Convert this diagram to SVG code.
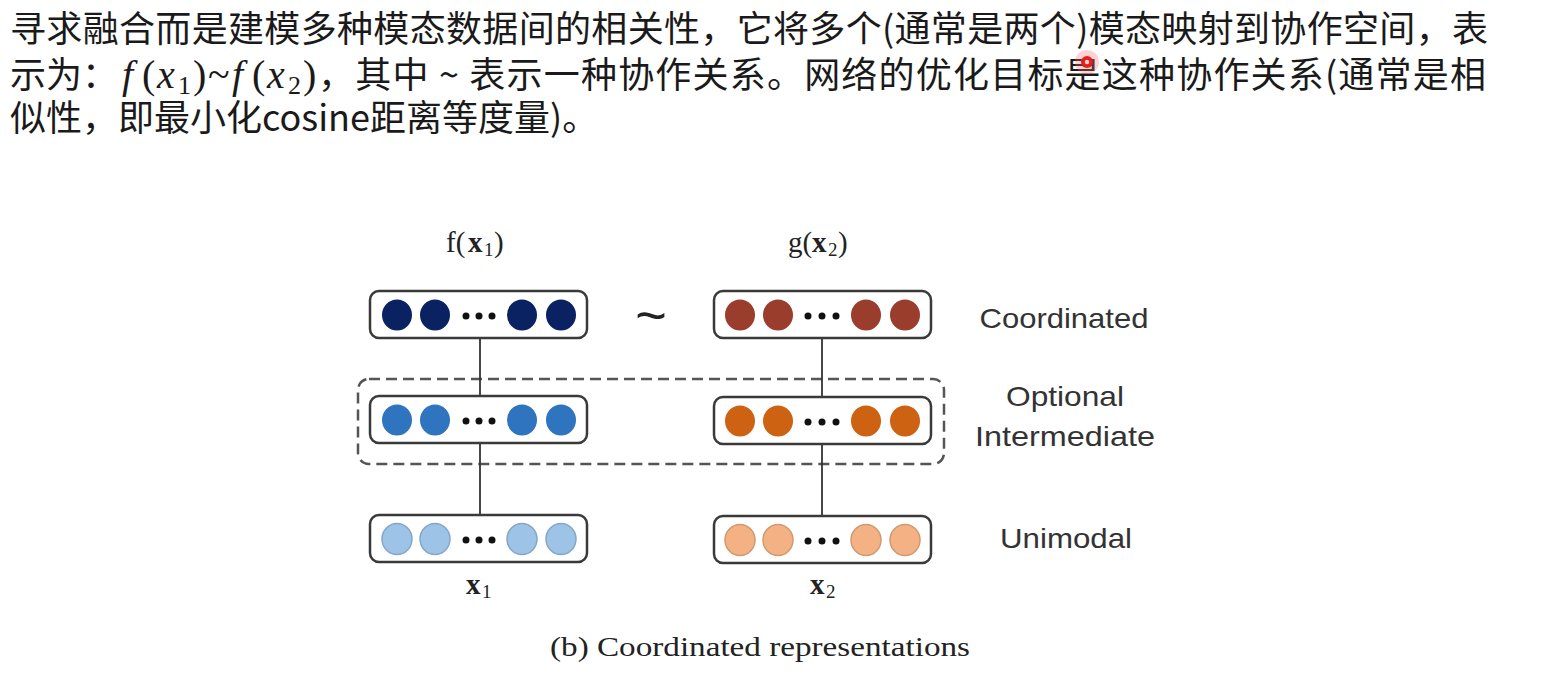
<svg xmlns="http://www.w3.org/2000/svg" width="1548" height="676" viewBox="0 0 1548 676">
<style>
.cjk{font-family:"Noto Sans CJK SC","Noto Sans",sans-serif;font-size:36px;fill:#1a1a1a}
.math{font-family:"Liberation Serif",serif;font-size:40px;fill:#1a1a1a}
.sub{font-family:"Liberation Serif",serif;font-size:26px;fill:#1a1a1a}
.it{font-style:italic}
.lab{font-family:"Liberation Serif",serif;font-size:29px;fill:#222}
.lsub{font-family:"Liberation Serif",serif;font-size:19px;fill:#222}
.bx{font-weight:bold}
.side{font-family:"Liberation Sans","Noto Sans",sans-serif;font-size:28px;fill:#333;text-anchor:middle}
.cap{font-family:"Liberation Serif",serif;font-size:28px;fill:#222}
.box{fill:#fff;stroke:#3a3a3a;stroke-width:2.5}
.dot{fill:#111}
.conn{stroke:#333;stroke-width:1.8;fill:none}
.dash{fill:none;stroke:#555;stroke-width:2.5;stroke-dasharray:11 6}
.c1{fill:#0b2262}
.c2{fill:#9b3d2c}
.c3{fill:#2f74bf}
.c4{fill:#cd6213}
.c5{fill:#9dc3e6;stroke:#85a6c6;stroke-width:1.5}
.c6{fill:#f4b183;stroke:#cf9a70;stroke-width:1.5}
</style>
<rect width="1548" height="676" fill="#fff"/>

<g id="paragraph">
<text class="cjk" x="10" y="42" textLength="1478" lengthAdjust="spacing">寻求融合而是建模多种模态数据间的相关性，它将多个(通常是两个)模态映射到协作空间，表</text>
<text class="cjk" x="10" y="88">示为：</text>
<text class="math it" x="122" y="88">f</text>
<text class="math" x="142" y="88">(</text>
<text class="math it" x="157" y="88">x</text>
<text class="sub" x="178" y="94">1</text>
<text class="math" x="193" y="88">)</text>
<text class="math" x="208" y="88">~</text>
<text class="math it" x="232" y="88">f</text>
<text class="math" x="252" y="88">(</text>
<text class="math it" x="267" y="88">x</text>
<text class="sub" x="288" y="94">2</text>
<text class="math" x="303" y="88">)</text>
<text class="cjk" x="318" y="88" textLength="1168" lengthAdjust="spacing">，其中 ~ 表示一种协作关系。网络的优化目标是这种协作关系(通常是相</text>
<text class="cjk" x="10" y="131">似性，即最小化cosine距离等度量)。</text>
</g>

<g id="pointer">
<circle cx="1087" cy="62" r="12" fill="#ff6b6b" opacity="0.3"/>
<circle cx="1087" cy="62" r="6" fill="#e0201e"/>
<circle cx="1087" cy="62" r="2.2" fill="#ffd0d0"/>
</g>

<g id="connectors">
<rect class="dash" x="358" y="379" width="586" height="85" rx="11"/>
<line class="conn" x1="480" y1="338" x2="480" y2="395"/>
<line class="conn" x1="480" y1="443" x2="480" y2="515"/>
<line class="conn" x1="822" y1="338" x2="822" y2="396"/>
<line class="conn" x1="822" y1="444" x2="822" y2="516"/>
</g>

<g id="label-f">
<text class="lab" x="446" y="252">f(</text>
<text class="lab bx" x="468" y="252">x</text>
<text class="lsub" x="484" y="256">1</text>
<text class="lab" x="494" y="252">)</text>
</g>
<g id="label-g">
<text class="lab" x="788" y="252">g(</text>
<text class="lab bx" x="812" y="252">x</text>
<text class="lsub" x="828" y="256">2</text>
<text class="lab" x="838" y="252">)</text>
</g>

<g id="coord-left">
<rect class="box" x="370" y="291" width="217" height="47" rx="9"/>
<ellipse class="c1" cx="397" cy="315" rx="15" ry="15.5"/>
<ellipse class="c1" cx="435" cy="315" rx="15" ry="15.5"/>
<circle class="dot" cx="466" cy="316" r="3.5"/>
<circle class="dot" cx="479" cy="316" r="3.5"/>
<circle class="dot" cx="492" cy="316" r="3.5"/>
<ellipse class="c1" cx="522" cy="315" rx="15" ry="15.5"/>
<ellipse class="c1" cx="561" cy="315" rx="15" ry="15.5"/>
</g>

<g id="tilde"><text x="651" y="334" font-family="Liberation Sans,sans-serif" font-size="54" fill="#222" text-anchor="middle">~</text></g>

<g id="coord-right">
<rect class="box" x="714" y="291" width="217" height="47" rx="9"/>
<ellipse class="c2" cx="740" cy="315" rx="15" ry="15.5"/>
<ellipse class="c2" cx="778" cy="315" rx="15" ry="15.5"/>
<circle class="dot" cx="808" cy="316" r="3.5"/>
<circle class="dot" cx="822" cy="316" r="3.5"/>
<circle class="dot" cx="836" cy="316" r="3.5"/>
<ellipse class="c2" cx="866" cy="315" rx="15" ry="15.5"/>
<ellipse class="c2" cx="905" cy="315" rx="15" ry="15.5"/>
</g>

<g id="mid-left">
<rect class="box" x="370" y="396" width="217" height="47" rx="9"/>
<ellipse class="c3" cx="397" cy="420" rx="15" ry="15.5"/>
<ellipse class="c3" cx="435" cy="420" rx="15" ry="15.5"/>
<circle class="dot" cx="466" cy="421" r="3.5"/>
<circle class="dot" cx="479" cy="421" r="3.5"/>
<circle class="dot" cx="492" cy="421" r="3.5"/>
<ellipse class="c3" cx="522" cy="420" rx="15" ry="15.5"/>
<ellipse class="c3" cx="561" cy="420" rx="15" ry="15.5"/>
</g>

<g id="mid-right">
<rect class="box" x="714" y="397" width="217" height="47" rx="9"/>
<ellipse class="c4" cx="740" cy="421" rx="15" ry="15.5"/>
<ellipse class="c4" cx="778" cy="421" rx="15" ry="15.5"/>
<circle class="dot" cx="808" cy="422" r="3.5"/>
<circle class="dot" cx="822" cy="422" r="3.5"/>
<circle class="dot" cx="836" cy="422" r="3.5"/>
<ellipse class="c4" cx="866" cy="421" rx="15" ry="15.5"/>
<ellipse class="c4" cx="905" cy="421" rx="15" ry="15.5"/>
</g>

<g id="uni-left">
<rect class="box" x="370" y="515" width="217" height="47" rx="9"/>
<ellipse class="c5" cx="397" cy="539" rx="15" ry="15.5"/>
<ellipse class="c5" cx="435" cy="539" rx="15" ry="15.5"/>
<circle class="dot" cx="466" cy="540" r="3.5"/>
<circle class="dot" cx="479" cy="540" r="3.5"/>
<circle class="dot" cx="492" cy="540" r="3.5"/>
<ellipse class="c5" cx="522" cy="539" rx="15" ry="15.5"/>
<ellipse class="c5" cx="561" cy="539" rx="15" ry="15.5"/>
</g>

<g id="uni-right">
<rect class="box" x="714" y="516" width="217" height="47" rx="9"/>
<ellipse class="c6" cx="740" cy="540" rx="15" ry="15.5"/>
<ellipse class="c6" cx="778" cy="540" rx="15" ry="15.5"/>
<circle class="dot" cx="808" cy="541" r="3.5"/>
<circle class="dot" cx="822" cy="541" r="3.5"/>
<circle class="dot" cx="836" cy="541" r="3.5"/>
<ellipse class="c6" cx="866" cy="540" rx="15" ry="15.5"/>
<ellipse class="c6" cx="905" cy="540" rx="15" ry="15.5"/>
</g>

<g id="label-x1"><text class="lab bx" x="466" y="594">x</text><text class="lsub" x="482" y="598">1</text></g>
<g id="label-x2"><text class="lab bx" x="810" y="594">x</text><text class="lsub" x="826" y="598">2</text></g>

<g id="side-labels">
<text class="side" x="1064" y="328" textLength="169" lengthAdjust="spacingAndGlyphs">Coordinated</text>
<text class="side" x="1065" y="406" textLength="118" lengthAdjust="spacingAndGlyphs">Optional</text>
<text class="side" x="1065" y="446" textLength="180" lengthAdjust="spacingAndGlyphs">Intermediate</text>
<text class="side" x="1066" y="548" textLength="132" lengthAdjust="spacingAndGlyphs">Unimodal</text>
</g>

<g id="caption"><text class="cap" x="550" y="656" textLength="420" lengthAdjust="spacingAndGlyphs">(b) Coordinated representations</text></g>
</svg>
